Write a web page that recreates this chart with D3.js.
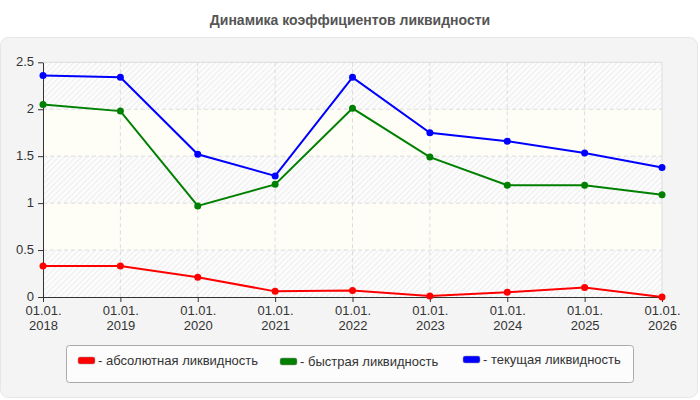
<!DOCTYPE html>
<html>
<head>
<meta charset="utf-8">
<script src="https://cdn.jsdelivr.net/npm/d3@7"></script>
<style>
  body { margin: 0; background: #fff; }
  svg { display: block; font-family: "Liberation Sans", Arial, sans-serif; }
</style>
</head>
<body>
<script>
// chart data
var years = ["2018", "2019", "2020", "2021", "2022", "2023", "2024", "2025", "2026"];
var absoluteLiq = [0.33, 0.33, 0.21, 0.06, 0.07, 0.01, 0.05, 0.10, 0.00];
var quickLiq = [2.05, 1.98, 0.97, 1.20, 2.01, 1.49, 1.19, 1.19, 1.09];
var currentLiq = [2.36, 2.34, 1.52, 1.29, 2.34, 1.75, 1.66, 1.535, 1.38];
var yTicks = [0, 0.5, 1, 1.5, 2, 2.5];
var seriesNames = ["- абсолютная ликвидность", "- быстрая ликвидность", "- текущая ликвидность"];
var seriesColors = ["#ff0000", "#008000", "#0000ff"];

var W = 700, H = 400;
var plotLeft = 43, plotRight = 662, plotTop = 62.3, plotBottom = 297;

var svg = d3.select("body").append("svg")
    .attr("width", W)
    .attr("height", H);

var defs = svg.append("defs");
var pat = defs.append("pattern")
    .attr("id", "hatch")
    .attr("patternUnits", "userSpaceOnUse")
    .attr("width", 4)
    .attr("height", 4)
    .attr("patternTransform", "rotate(45)");
pat.append("rect").attr("width", 4).attr("height", 4).attr("fill", "#fcfcfc");
pat.append("line")
    .attr("x1", 0).attr("y1", 0).attr("x2", 0).attr("y2", 4)
    .attr("stroke", "#eaeaea")
    .attr("stroke-width", 1.6);

// title
svg.append("text")
    .attr("x", W / 2)
    .attr("y", 25)
    .attr("text-anchor", "middle")
    .attr("font-size", 14)
    .attr("font-weight", "bold")
    .attr("fill", "#555")
    .text("Динамика коэффициентов ликвидности");

// outer panel
svg.append("rect")
    .attr("x", 0.5).attr("y", 37.5)
    .attr("width", 697).attr("height", 360)
    .attr("rx", 8).attr("ry", 8)
    .attr("fill", "#f4f4f4")
    .attr("stroke", "#e6e6e6");

var x = d3.scalePoint()
    .domain(years)
    .range([plotLeft, plotRight]);

var y = d3.scaleLinear()
    .domain([0, 2.5])
    .range([plotBottom, plotTop]);

// bands: hatched / plain alternating
var bands = d3.pairs(yTicks);
svg.append("g").selectAll("rect")
    .data(bands)
    .enter().append("rect")
    .attr("x", plotLeft)
    .attr("width", plotRight - plotLeft)
    .attr("y", function (d) { return y(d[1]); })
    .attr("height", function (d) { return y(d[0]) - y(d[1]); })
    .attr("fill", function (d, i) { return i % 2 == 0 ? "url(#hatch)" : "#fefef7"; });

// grid
svg.append("g").selectAll("line")
    .data(yTicks.filter(function (d) { return d > 0 && d < 2.5; }))
    .enter().append("line")
    .attr("x1", plotLeft).attr("x2", plotRight)
    .attr("y1", function (d) { return y(d); })
    .attr("y2", function (d) { return y(d); })
    .attr("stroke", "#dcdcdc")
    .attr("stroke-dasharray", "4,3");

svg.append("g").selectAll("line")
    .data(years.slice(1, -1))
    .enter().append("line")
    .attr("x1", function (d) { return x(d); })
    .attr("x2", function (d) { return x(d); })
    .attr("y1", plotTop).attr("y2", plotBottom)
    .attr("stroke", "#dcdcdc")
    .attr("stroke-dasharray", "4,3");

// plot border top/right
svg.append("path")
    .attr("d", "M" + plotLeft + "," + plotTop + "H" + plotRight + "V" + plotBottom)
    .attr("fill", "none")
    .attr("stroke", "#dddddd");

// axes
var yAxis = svg.append("g")
    .attr("transform", "translate(" + plotLeft + ",0)")
    .call(d3.axisLeft(y).tickValues(yTicks).tickSize(5).tickPadding(4).tickSizeOuter(0)
        .tickFormat(function (d) { return String(d); }));
yAxis.selectAll(".tick text").attr("dy", "0.24em");

var xAxis = svg.append("g")
    .attr("transform", "translate(0," + plotBottom + ")")
    .call(d3.axisBottom(x).tickSize(5).tickSizeOuter(0));
xAxis.selectAll(".tick text").remove();

[yAxis, xAxis].forEach(function (a) {
    a.select(".domain").attr("stroke", "#333");
    a.selectAll(".tick line").attr("stroke", "#333");
    a.selectAll("text")
        .attr("font-size", 13)
        .attr("font-family", "Liberation Sans, Arial, sans-serif")
        .attr("fill", "#333");
});

// two-line date labels
xAxis.selectAll(".tick").each(function (d) {
    var g = d3.select(this);
    g.append("text")
        .attr("y", 18.2)
        .attr("text-anchor", "middle")
        .attr("font-size", 13)
        .attr("fill", "#333")
        .text("01.01.");
    g.append("text")
        .attr("y", 32.8)
        .attr("text-anchor", "middle")
        .attr("font-size", 13)
        .attr("fill", "#333")
        .text(d);
});

// series
var series = [absoluteLiq, quickLiq, currentLiq];
var line = d3.line()
    .x(function (d, i) { return x(years[i]); })
    .y(function (d) { return y(d); });

series.forEach(function (vals, s) {
    svg.append("path")
        .datum(vals)
        .attr("d", line)
        .attr("fill", "none")
        .attr("stroke", seriesColors[s])
        .attr("stroke-width", 2);
    svg.append("g").selectAll("circle")
        .data(vals)
        .enter().append("circle")
        .attr("cx", function (d, i) { return x(years[i]); })
        .attr("cy", function (d) { return y(d); })
        .attr("r", 3.5)
        .attr("fill", seriesColors[s]);
});

// legend
svg.append("rect")
    .attr("x", 66.5).attr("y", 345.5)
    .attr("width", 567).attr("height", 37)
    .attr("rx", 3).attr("ry", 3)
    .attr("fill", "#fcfcfc")
    .attr("stroke", "#aaaaaa");

var legendX = [78, 280, 463];
var legendY = [357, 358, 356];
var leg = svg.append("g").selectAll("g")
    .data(seriesNames)
    .enter().append("g")
    .attr("transform", function (d, i) { return "translate(" + legendX[i] + "," + legendY[i] + ")"; });

leg.append("rect")
    .attr("width", 17).attr("height", 7)
    .attr("rx", 2).attr("ry", 2)
    .attr("fill", function (d, i) { return seriesColors[i]; })
    .attr("stroke", "#999")
    .attr("stroke-width", 0.5);

leg.append("text")
    .attr("x", 20)
    .attr("y", 8)
    .attr("font-size", 13)
    .attr("fill", "#333")
    .text(function (d) { return d; });
</script>
</body>
</html>
